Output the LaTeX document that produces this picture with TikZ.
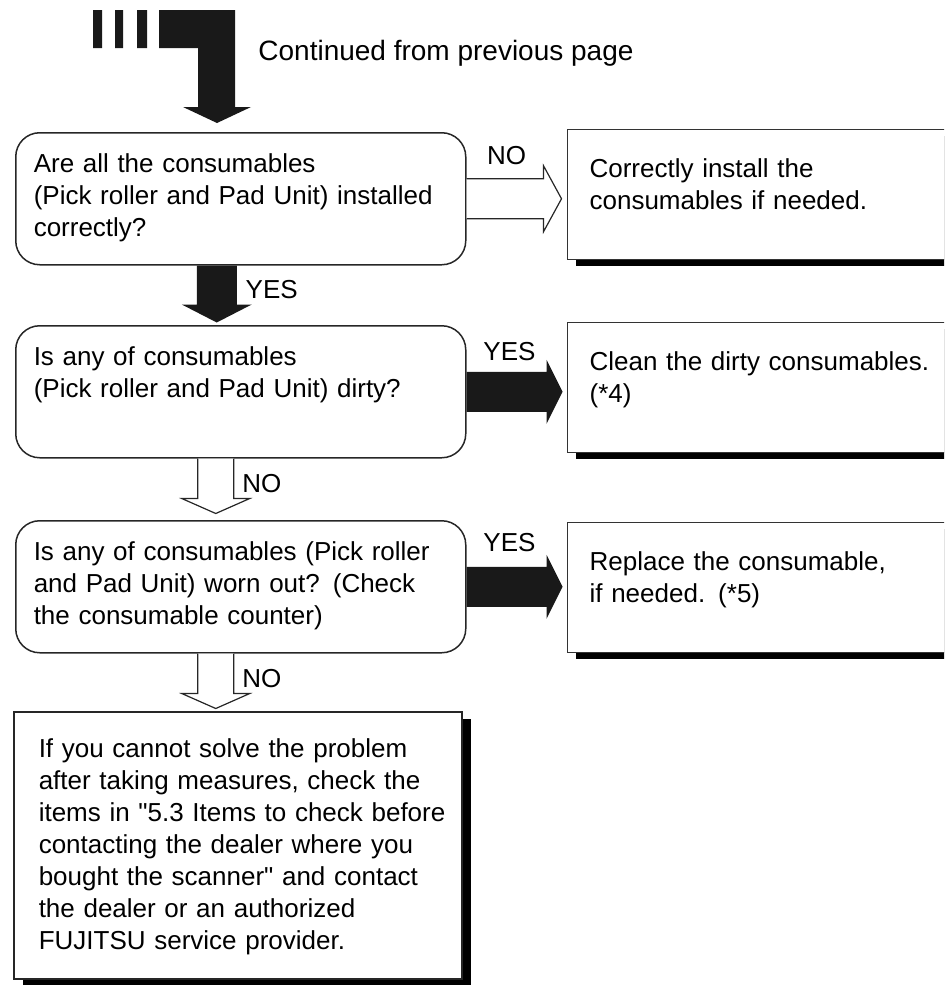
\documentclass[tikz,border=0pt]{standalone}
\usepackage{fontspec}
\setmainfont{Liberation Sans}
\usepackage{tikz}
\usetikzlibrary{calc,shadows}

\newcommand\chartfont{\fontsize{13}{16}\selectfont}

\begin{document}
\begin{tikzpicture}[
  x=0.5pt, y=-0.5pt,
  qbox/.style={draw=black!85,line width=0.75pt,rounded corners=12pt,anchor=north west,
    align=left,text width=207pt,inner xsep=9pt,inner ysep=0pt,
    text height=20pt,text depth=46pt,font=\chartfont},
  abox/.style={draw=black!80,line width=0.6pt,fill=white,anchor=north west,
    align=left,text width=178pt,inner xsep=11pt,inner ysep=0pt,
    text height=24pt,text depth=41pt,font=\chartfont,
    drop shadow={shadow xshift=4pt,shadow yshift=-3.2pt,fill=black,opacity=1}},
  endbox/.style={draw=black!85,line width=0.75pt,fill=white,anchor=north west,
    align=left,text width=214pt,inner xsep=5pt,inner ysep=0pt,
    text height=23pt,text depth=110.5pt,font=\chartfont,
    drop shadow={shadow xshift=4.5pt,shadow yshift=-3.5pt,fill=black,opacity=1}},
  lbl/.style={inner sep=0pt,font=\chartfont},
  hollowarrow/.style={draw=black!85,line width=0.6pt,fill=white,line join=miter},
  blockarrow/.style={fill=black!90}
]
  \useasboundingbox (0,0) rectangle (944,985);
  \clip (0,0) rectangle (944,985);

  % continued mark
  \fill[blockarrow] (93,10) rectangle (102,48) (115,10) rectangle (123,48) (137,10) rectangle (147,48);
  \fill[blockarrow] (159,10) -- (235,10) -- (235,107) -- (251,107) -- (217,123)
    -- (183,107) -- (198,107) -- (198,48) -- (159,48) -- cycle;
  \node[lbl,anchor=base west,font=\fontsize{14}{16}\selectfont] (cont) at (258,60) {Continued from previous page};

  % questions
  \node[qbox] (q1) at (15,132) {Are all the consumables\\(Pick roller and Pad Unit) installed\\correctly?};
  \node[qbox] (q2) at (15,325) {Is any of consumables\\(Pick roller and Pad Unit) dirty?};
  \node[qbox] (q3) at (15,520) {Is any of consumables (Pick roller\\and Pad Unit) worn out? (Check\\the consumable counter)};

  % actions
  \node[abox] (fix) at (567,129) {Correctly install the\\consumables if needed.};
  \node[abox] (clean) at (567,322) {Clean the dirty consumables.\\(*4)};
  \node[abox] (swap) at (567,522) {Replace the consumable,\\if needed. (*5)};

  \node[endbox] (help) at (13,711) {\hyphenpenalty=10000 \leftskip=7.5pt If you cannot solve the problem\\after taking measures, check the\\items in \textquotedbl 5.3 Items to check before\\contacting the dealer where you\\bought the scanner\textquotedbl{} and contact\\the dealer or an authorized\\FUJITSU service provider.\par};

  % q1 -> fix
  \draw[hollowarrow] ($(q1.east)+(0,-20)$) -- ++(77,0) -- ++(0,-13) -- ++(18,33)
    -- ++(-18,33) -- ++(0,-13) -- ++(-77,0);
  \node[lbl] (no1) at ($(q1.east)+(40,-43)$) {NO};

  % q1 -> q2
  \fill[blockarrow] ($(q1.south)+(-44,0)$) -- ++(0,39) -- ++(-15,0) -- ++(35,18)
    -- ++(35,-18) -- ++(-15,0) -- ++(0,-39) -- cycle;
  \node[lbl] (yes1) at ($(q1.south)+(31,24)$) {YES};

  % q2 -> clean
  \fill[blockarrow] ($(q2.east)+(0,-20)$) -- ++(80,0) -- ++(0,-12) -- ++(16,32)
    -- ++(-16,32) -- ++(0,-12) -- ++(-80,0) -- cycle;
  \node[lbl] (yes2) at ($(q2.east)+(43,-40)$) {YES};

  % q2 -> q3
  \draw[hollowarrow] ($(q2.south)+(-43,0)$) -- ++(0,40) -- ++(-16,0) -- ++(34,15)
    -- ++(34,-15) -- ++(-16,0) -- ++(0,-40);
  \node[lbl] (no2) at ($(q2.south)+(21,25)$) {NO};

  % q3 -> swap
  \fill[blockarrow] ($(q3.east)+(0,-20)$) -- ++(80,0) -- ++(0,-12) -- ++(16,32)
    -- ++(-16,32) -- ++(0,-12) -- ++(-80,0) -- cycle;
  \node[lbl] (yes3) at ($(q3.east)+(43,-44)$) {YES};

  % q3 -> help
  \draw[hollowarrow] ($(q3.south)+(-43,0)$) -- ++(0,40) -- ++(-16,0) -- ++(34,15)
    -- ++(34,-15) -- ++(-16,0) -- ++(0,-40);
  \node[lbl] (no3) at ($(q3.south)+(21,25)$) {NO};
\end{tikzpicture}
\end{document}
